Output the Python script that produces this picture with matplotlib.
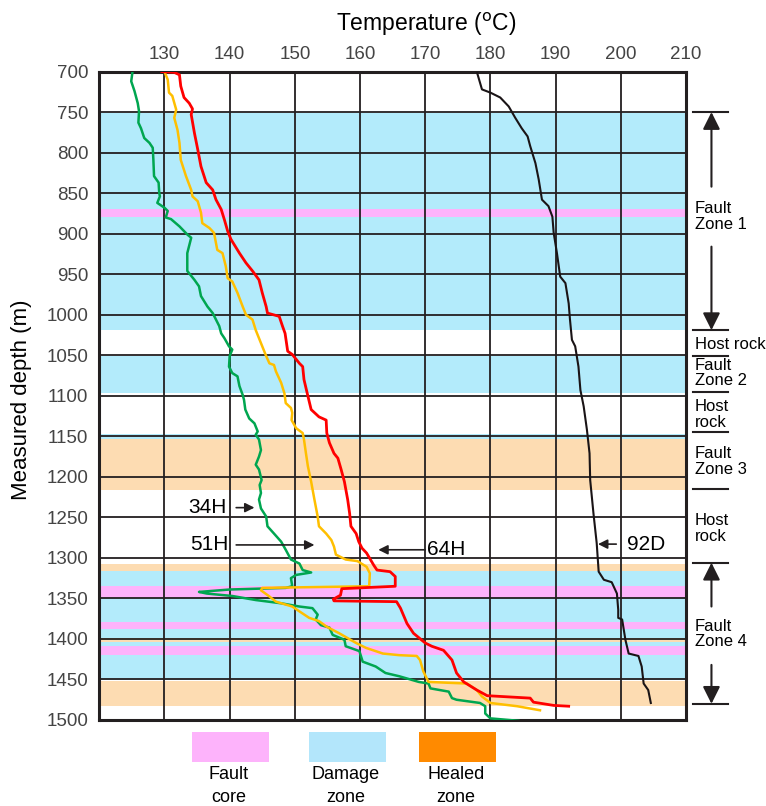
import matplotlib
matplotlib.use('Agg')
import matplotlib.pyplot as plt
from matplotlib.patches import Rectangle

plt.rcParams['font.family'] = ['Liberation Sans', 'DejaVu Sans']

# Temperature logs: (depth m, temperature C)
depth_34h = [700, 712, 724, 739, 749, 763, 770, 782, 788, 794, 809, 829, 837, 850, 854, 862, 868, 872,
             880, 882, 891, 901, 905, 924, 946, 957, 965, 977, 990, 998, 1006, 1014, 1023, 1029, 1039,
             1043, 1051, 1064, 1072, 1076, 1088, 1099, 1105, 1117, 1128, 1134, 1144, 1148, 1154, 1167,
             1175, 1185, 1191, 1204, 1210, 1220, 1228, 1239, 1249, 1261, 1270, 1280, 1290, 1302, 1307,
             1315, 1318, 1321, 1325, 1335, 1337, 1339, 1342, 1344, 1347, 1352, 1356, 1360, 1362, 1370,
             1376, 1383, 1386, 1395, 1401, 1409, 1415, 1428, 1434, 1442, 1446, 1453, 1455, 1461, 1465,
             1473, 1475, 1479, 1483, 1492, 1498, 1501]
temp_34h = [125.1, 124.9, 125.4, 125.9, 126.1, 126.0, 126.4, 126.9, 127.7, 128.2, 128.3, 128.4, 129.1,
            129.2, 129.3, 128.9, 130.0, 130.5, 130.2, 131.0, 132.3, 133.5, 134.1, 133.5, 133.5, 134.6,
            135.3, 135.6, 136.6, 137.4, 137.9, 138.4, 138.7, 139.2, 139.9, 140.4, 140.0, 139.9, 140.4,
            141.2, 141.5, 142.0, 142.2, 142.4, 143.0, 143.8, 144.3, 144.0, 144.5, 144.8, 144.5, 144.0,
            144.5, 144.9, 144.6, 144.8, 144.5, 144.8, 145.6, 145.8, 146.8, 147.9, 148.6, 149.4, 150.7,
            151.2, 152.5, 150.2, 149.4, 149.6, 148.6, 140.0, 135.3, 136.5, 140.4, 144.0, 147.9, 150.7,
            152.7, 153.5, 153.2, 154.0, 155.3, 155.8, 157.6, 157.8, 159.9, 160.4, 162.4, 163.9, 166.0,
            169.0, 170.5, 170.8, 173.6, 174.1, 174.8, 178.4, 179.2, 179.2, 180.0, 184.3]

depth_51h = [700, 710, 726, 730, 747, 757, 772, 788, 809, 829, 846, 854, 860, 874, 887, 893, 899, 920,
             924, 940, 955, 959, 973, 990, 1000, 1006, 1019, 1029, 1039, 1051, 1060, 1062, 1070, 1084,
             1097, 1109, 1115, 1121, 1130, 1140, 1146, 1154, 1171, 1187, 1206, 1228, 1249, 1261, 1270,
             1278, 1286, 1296, 1302, 1304, 1311, 1319, 1335, 1337, 1340, 1347, 1354, 1360, 1366, 1374,
             1378, 1385, 1393, 1405, 1411, 1418, 1420, 1421, 1426, 1440, 1453, 1454, 1455, 1463, 1471,
             1479, 1483, 1488]
temp_51h = [130.0, 130.5, 130.7, 131.2, 131.8, 131.5, 132.0, 132.3, 132.5, 133.3, 134.1, 134.3, 135.1,
            135.6, 135.8, 136.9, 137.6, 138.1, 138.9, 139.4, 139.7, 140.4, 141.2, 142.0, 142.5, 143.5,
            144.0, 144.5, 145.0, 145.6, 146.1, 146.8, 147.1, 147.9, 148.4, 148.6, 149.4, 149.6, 149.5,
            150.2, 151.2, 151.4, 151.7, 152.0, 152.5, 153.0, 153.5, 153.7, 154.8, 155.6, 156.0, 156.3,
            157.8, 159.6, 161.0, 161.5, 161.4, 145.0, 144.8, 146.0, 147.1, 149.6, 150.7, 152.2, 153.7,
            154.9, 156.8, 159.4, 160.9, 163.5, 166.0, 168.7, 169.2, 169.7, 170.5, 173.3, 176.4, 177.9,
            178.7, 180.0, 184.1, 187.6]

depth_64h = [700, 701, 704, 718, 732, 739, 746, 753, 776, 796, 817, 837, 846, 858, 870, 883, 897, 907,
             924, 936, 947, 957, 973, 990, 998, 1002, 1014, 1023, 1045, 1049, 1060, 1064, 1080, 1097,
             1117, 1126, 1130, 1146, 1158, 1171, 1177, 1191, 1206, 1228, 1245, 1261, 1270, 1280, 1288,
             1294, 1309, 1315, 1317, 1323, 1335, 1338, 1346, 1351, 1353, 1354, 1362, 1381, 1393, 1405,
             1409, 1414, 1426, 1442, 1453, 1463, 1470, 1473, 1478, 1482, 1483]
temp_64h = [129.6, 131.5, 132.3, 132.5, 133.0, 133.8, 134.3, 134.1, 134.6, 135.1, 135.6, 136.4, 137.4,
            137.9, 138.7, 139.2, 139.7, 140.2, 141.5, 142.5, 143.6, 144.5, 145.0, 145.6, 145.8, 147.6,
            148.1, 148.5, 148.9, 149.6, 150.7, 151.2, 151.4, 151.9, 152.5, 153.7, 154.8, 154.9, 155.3,
            156.0, 156.6, 157.1, 157.6, 158.1, 158.4, 158.6, 159.4, 159.8, 160.3, 161.0, 162.1, 162.6,
            164.6, 165.4, 165.4, 157.2, 157.0, 155.9, 156.0, 165.6, 166.2, 167.2, 168.2, 170.0, 171.0,
            172.8, 174.1, 174.8, 175.9, 177.9, 179.5, 186.1, 186.6, 189.7, 192.0]

depth_92d = [700, 722, 726, 732, 743, 757, 770, 780, 792, 813, 833, 858, 866, 879, 899, 924, 953, 961,
             986, 1006, 1031, 1039, 1064, 1093, 1113, 1142, 1171, 1204, 1245, 1282, 1317, 1327, 1330,
             1344, 1364, 1374, 1376, 1401, 1418, 1421, 1434, 1455, 1463, 1479]
temp_92d = [177.9, 178.7, 180.0, 181.5, 182.8, 183.8, 184.8, 185.7, 186.1, 186.9, 187.4, 187.9, 188.9,
            189.5, 189.7, 190.2, 190.7, 191.5, 192.0, 192.2, 192.5, 193.0, 193.5, 193.8, 194.3, 194.8,
            195.2, 195.3, 195.8, 196.3, 196.6, 197.4, 198.6, 199.4, 199.6, 199.6, 200.2, 200.7, 201.2,
            202.7, 203.2, 203.5, 204.2, 204.6]

# zone intervals (top, bottom) in m
damage_zones = [(751, 1019), (1051, 1096), (1147, 1154), (1316, 1451)]
core_zones = [(870, 880), (1335, 1350), (1379, 1388), (1409, 1420)]
healed_zones = [(1153, 1216), (1307, 1316), (1399, 1404), (1452, 1483)]

x_ticks = [130, 140, 150, 160, 170, 180, 190, 200, 210]
y_ticks = list(range(700, 1501, 50))

c_dark = '#231f20'
c_blue = '#b3ebfb'
c_pink = '#fdb3fb'
c_peach = '#fddcb2'

fig = plt.figure(figsize=(7.66, 8.06), dpi=100)
ax = fig.add_axes([0.1296, 0.1067, 0.7660, 0.8045])

for top, bot in damage_zones:
    ax.axhspan(top, bot, color=c_blue, lw=0, zorder=0.5)
for top, bot in healed_zones:
    ax.axhspan(top, bot, color=c_peach, lw=0, zorder=0.6)
for top, bot in core_zones:
    ax.axhspan(top, bot, color=c_pink, lw=0, zorder=0.7)

ax.plot(temp_34h, depth_34h, color='#00a650', lw=1.8, zorder=3)
ax.plot(temp_51h, depth_51h, color='#ffbf00', lw=1.8, zorder=3)
ax.plot(temp_64h, depth_64h, color='#ff0000', lw=2.0, zorder=3)
ax.plot(temp_92d, depth_92d, color='#1a1416', lw=1.5, zorder=3)

ax.set_xlim(120, 210)
ax.set_ylim(1500, 700)
ax.xaxis.tick_top()
ax.set_xticks(x_ticks)
ax.set_yticks(y_ticks)
ax.tick_params(length=0, labelsize=13.5, labelcolor='#444444')
ax.tick_params(axis='x', pad=6)
ax.tick_params(axis='y', pad=8)
ax.set_axisbelow('line')
ax.grid(True, color=c_dark, lw=1.3)
for s in ax.spines.values():
    s.set_linewidth(2.2)
    s.set_color(c_dark)

fig.text(426 / 766, 1 - 24 / 806, r'Temperature ($^{\mathrm{o}}$C)', ha='center', va='center', fontsize=16.5)
fig.text(22 / 766, 1 - 400 / 806, 'Measured depth (m)', rotation=90, ha='center', va='center', fontsize=16)

# well labels
arr = dict(arrowstyle='-|>', color=c_dark, lw=1.2, mutation_scale=14, shrinkA=0, shrinkB=0)
ax.annotate('', xy=(143.8, 1238), xytext=(141.0, 1238), arrowprops=arr)
ax.text(139.6, 1238, '34H', ha='right', va='center', fontsize=15)
ax.annotate('', xy=(153.0, 1284), xytext=(141.0, 1284), arrowprops=arr)
ax.text(139.9, 1284, '51H', ha='right', va='center', fontsize=15)
ax.annotate('', xy=(162.8, 1290), xytext=(170.0, 1290), arrowprops=arr)
ax.text(170.3, 1290, '64H', ha='left', va='center', fontsize=15)
ax.annotate('', xy=(196.5, 1283), xytext=(199.3, 1283), arrowprops=arr)
ax.text(201.0, 1283, '92D', ha='left', va='center', fontsize=15)

# zone brackets on the right
for d in [750, 1019, 1051, 1095, 1145, 1215, 1306, 1480]:
    ax.plot([211.1, 216.5], [d, d], color=c_dark, lw=1.5, clip_on=False)

big = dict(arrowstyle='-|>', color=c_dark, lw=1.5, mutation_scale=26, shrinkA=0, shrinkB=0)
ax.annotate('', xy=(213.9, 750), xytext=(213.9, 842), arrowprops=big, annotation_clip=False)
ax.annotate('', xy=(213.9, 1019), xytext=(213.9, 916), arrowprops=big, annotation_clip=False)
ax.annotate('', xy=(213.9, 1306), xytext=(213.9, 1360), arrowprops=big, annotation_clip=False)
ax.annotate('', xy=(213.9, 1480), xytext=(213.9, 1432), arrowprops=big, annotation_clip=False)

zone_labels = [('Fault\nZone 1', 879), ('Host rock', 1037), ('Fault\nZone 2', 1072),
               ('Host\nrock', 1123), ('Fault\nZone 3', 1181), ('Host\nrock', 1264),
               ('Fault\nZone 4', 1394)]
for txt, d in zone_labels:
    ax.text(211.3, d, txt, ha='left', va='center', fontsize=12, linespacing=1.05, clip_on=False)

# legend boxes
legend_items = [('Fault\ncore', '#fdb3fb', 192), ('Damage\nzone', '#b3e6fb', 309), ('Healed\nzone', '#ff8a00', 419)]
for name, col, x0 in legend_items:
    fig.add_artist(Rectangle((x0 / 766, 44 / 806), 77 / 766, 30 / 806,
                             transform=fig.transFigure, color=col, lw=0))
    fig.text((x0 + 37) / 766, 1 - 766 / 806, name, ha='center', va='top', fontsize=13, linespacing=1.45)

fig.savefig('out.png', dpi=100)
